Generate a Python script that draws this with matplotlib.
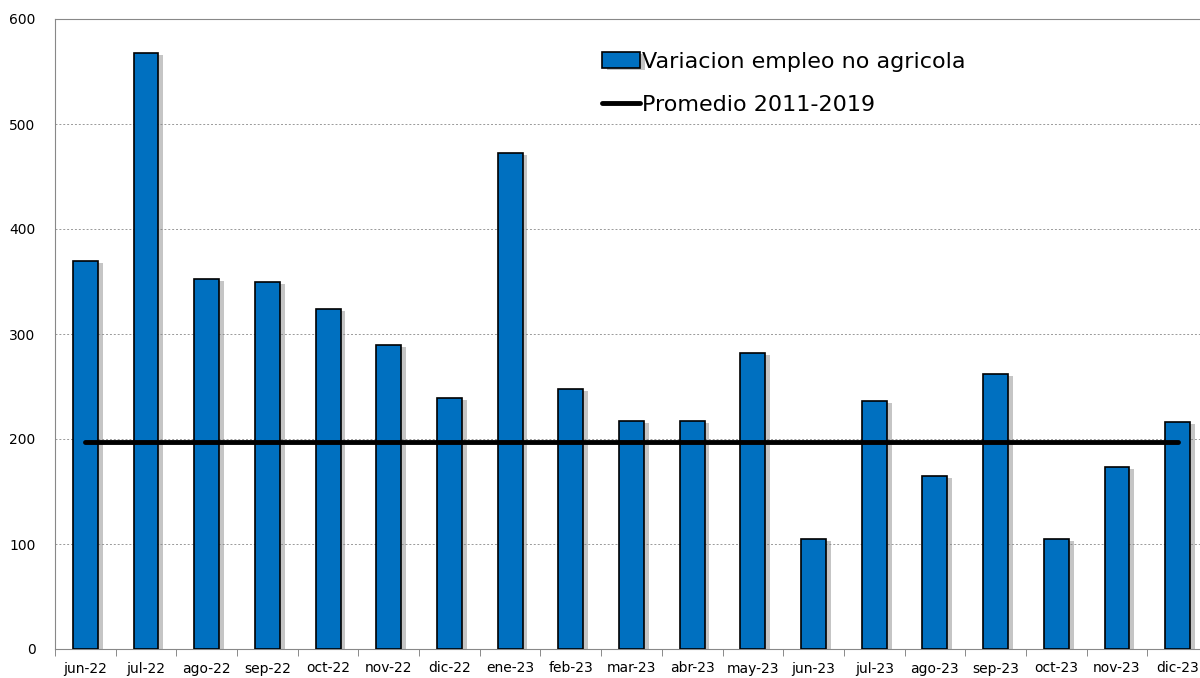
import numpy as np
import matplotlib.pyplot as plt
import matplotlib.patheffects as pe

# data
months = ["jun-22", "jul-22", "ago-22", "sep-22", "oct-22", "nov-22", "dic-22",
          "ene-23", "feb-23", "mar-23", "abr-23", "may-23", "jun-23", "jul-23",
          "ago-23", "sep-23", "oct-23", "nov-23", "dic-23"]
empleo = [370, 568, 352, 350, 324, 290, 239, 472, 248, 217, 217, 282,
          105, 236, 165, 262, 105, 173, 216]
promedio = [197] * len(months)

fig = plt.figure(figsize=(12, 6.78), dpi=100)
ax = fig.add_axes([55 / 1200, 29 / 678, 1153 / 1200, 630 / 678])

x = np.arange(len(months))
bars = ax.bar(x, empleo, width=0.41, color="#0070C0", edgecolor="black",
              linewidth=1.2, label="Variacion empleo no agricola", zorder=3)
for b in bars:
    b.set_path_effects([pe.SimplePatchShadow(offset=(3.5, -1.5), shadow_rgbFace="gray", alpha=0.45),
                        pe.Normal()])
line, = ax.plot(x, promedio, color="black", lw=3.5, solid_capstyle="round",
                label="Promedio 2011-2019", zorder=4)

ax.set_xlim(-0.5, len(months) - 0.5)
ax.set_ylim(0, 600)
ax.set_yticks(range(0, 601, 100))
ax.yaxis.grid(True, color="#999999", linestyle=(0, (2, 2)), linewidth=0.7, zorder=0)

ax.set_xticks(x)
ax.set_xticklabels(months)
ax.set_xticks(np.arange(-0.5, len(months), 1), minor=True)
ax.tick_params(axis="x", which="major", length=0, pad=9, labelsize=10)
ax.tick_params(axis="x", which="minor", length=5, color="#777777")
ax.tick_params(axis="y", length=0, pad=14, labelsize=10)

for s in ["left", "bottom", "top"]:
    ax.spines[s].set_color("#888888")
ax.spines["right"].set_visible(False)

leg = ax.legend([bars, line], ["Variacion empleo no agricola", "Promedio 2011-2019"],
                loc="upper left", bbox_to_anchor=(0.457, 0.98), frameon=False,
                fontsize=16, handlelength=1.7, handletextpad=0.1, labelspacing=1.05)

fig.savefig("out.png", dpi=100)
